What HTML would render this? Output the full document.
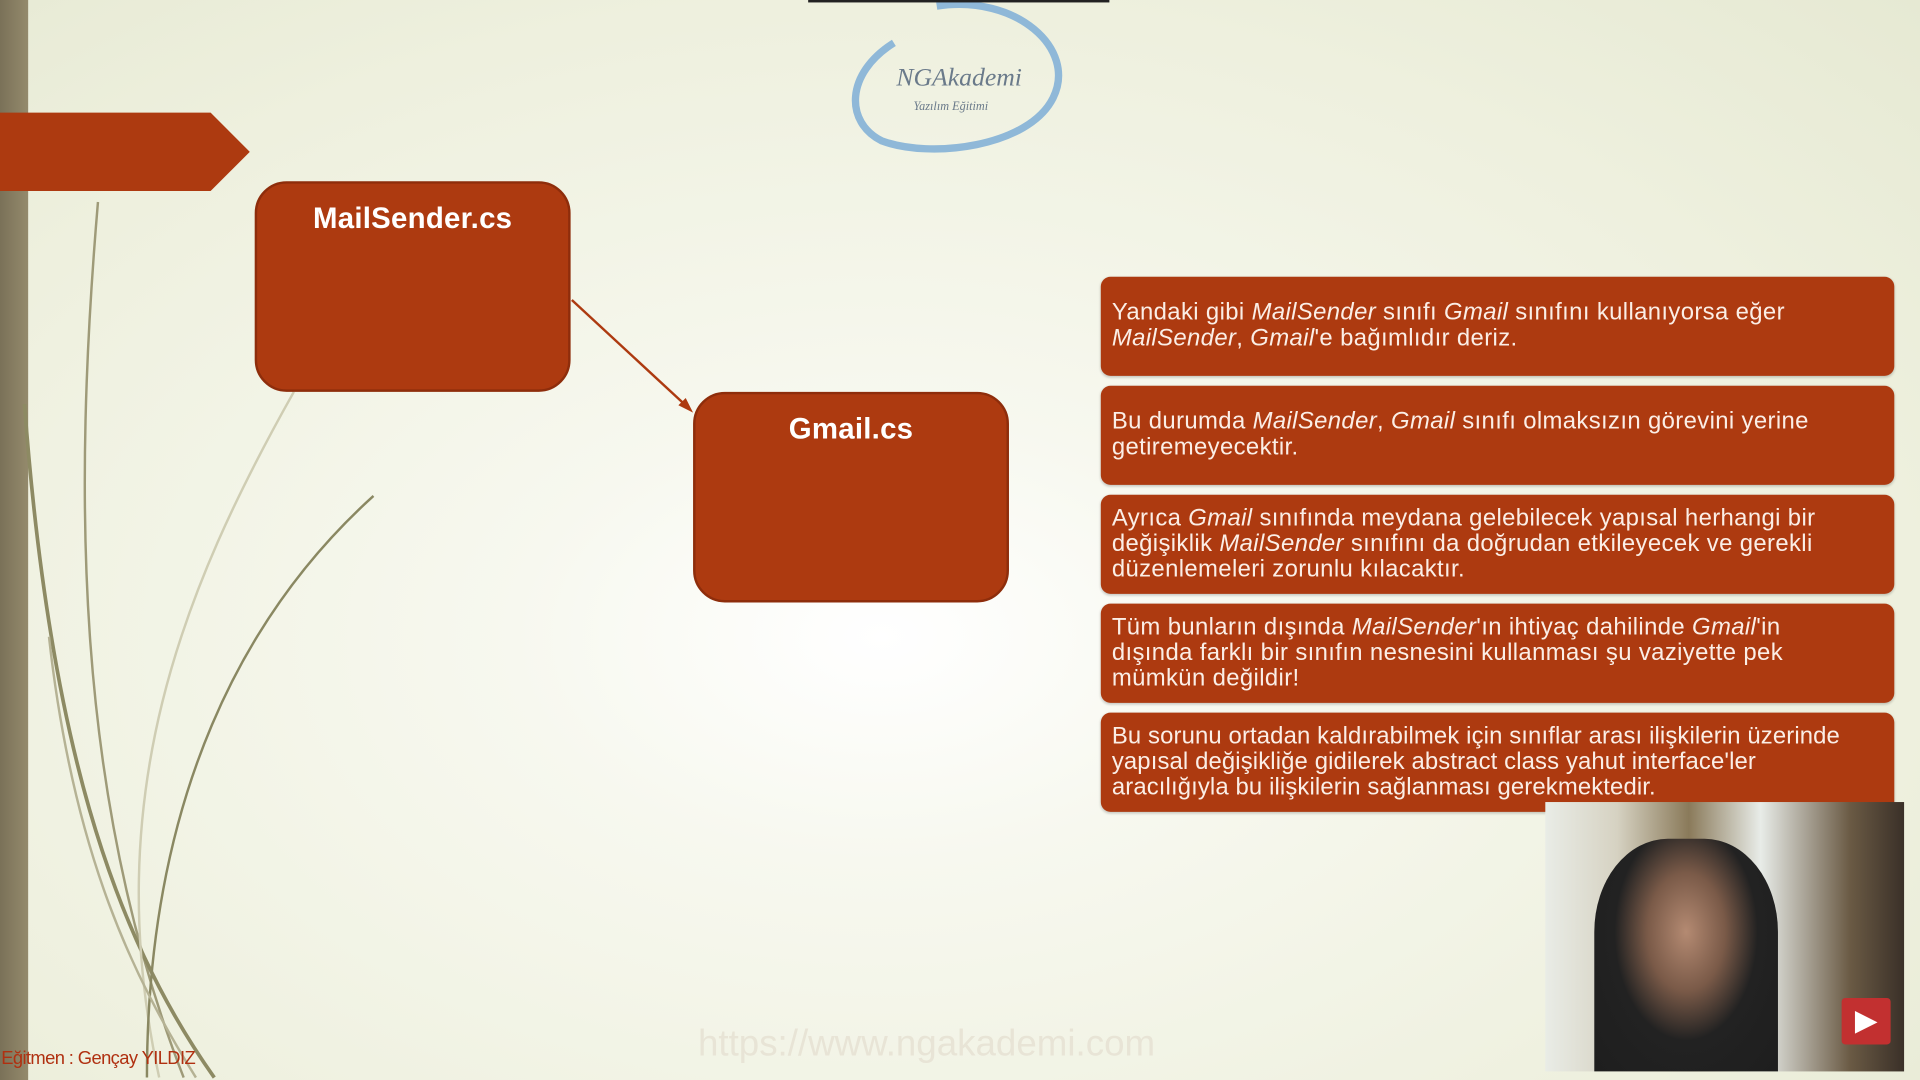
<!DOCTYPE html>
<html><head><meta charset="utf-8"><style>
html,body{margin:0;padding:0;width:1920px;height:1080px;overflow:hidden;background:#f3f3e6}
#s{position:absolute;left:0;top:0;width:1568px;height:882px;transform:scale(1.22449);transform-origin:0 0;
background:radial-gradient(ellipse at 720px 520px,#ffffff 0%,#f7f8ef 25%,#eef0de 70%,#e6e9d3 100%);font-family:"Liberation Sans",sans-serif;overflow:hidden}
.bar{position:absolute;left:0;top:0;width:23px;height:882px;background:linear-gradient(90deg,#7a7158,#948a6c)}
.box{position:absolute;background:#ad3a10;border:2px solid #8e2d0b;border-radius:26px;color:#fff;font-weight:bold;font-size:24px;letter-spacing:0.2px;text-align:center;box-sizing:border-box}
.p{position:absolute;left:899px;width:648px;height:81px;background:#ad3a10;border-radius:8px;color:#fbeee6;font-size:19.5px;letter-spacing:0.3px;line-height:21px;padding:18px 9px 0;box-sizing:border-box;box-shadow:0 1px 2px rgba(0,0,0,.2);white-space:nowrap}
i{font-style:italic}
</style></head><body><div id="s">
<div class="bar"></div>
<svg width="1568" height="882" style="position:absolute;left:0;top:0">
<path d="M80 165 C60 400 60 650 150 880" stroke="#9e9a78" stroke-width="2" fill="none"/>
<path d="M20 330 C40 600 90 760 175 880" stroke="#8d8a63" stroke-width="3" fill="none"/>
<path d="M240 320 C150 480 80 650 130 880" stroke="#cfcdb3" stroke-width="2" fill="none"/>
<path d="M305 405 C200 500 120 650 120 880" stroke="#8a8862" stroke-width="2" fill="none"/>
<path d="M40 520 C60 700 110 800 160 880" stroke="#b5b294" stroke-width="2" fill="none"/>
<polygon points="0,92 172,92 204,124 172,156 0,156" fill="#ad3a10"/>
<line x1="467" y1="245" x2="561" y2="332" stroke="#ad3a10" stroke-width="2"/>
<polygon points="566,337 554,331 560,325" fill="#ad3a10"/>
<path d="M765 5 C830 -5 880 40 860 80 C840 120 760 130 720 115 C690 100 690 60 730 35" fill="none" stroke="#8fb8d8" stroke-width="6"/>
<rect x="660" y="0" width="246" height="2" fill="#222"/>
<text x="732" y="70" font-family="Liberation Serif" font-style="italic" font-size="21" fill="#6a7a8a">NGAkademi</text>
<text x="746" y="90" font-family="Liberation Serif" font-style="italic" font-size="10" fill="#6a7a8a">Yazılım Eğitimi</text>
<text x="570" y="862" font-size="30" fill="#e8e4d6">https://www.ngakademi.com</text>
</svg>
<div class="box" style="left:208px;top:148px;width:258px;height:172px;padding-top:15px">MailSender.cs</div>
<div class="box" style="left:566px;top:320px;width:258px;height:172px;padding-top:15px">Gmail.cs</div>
<div class="p" style="top:226px;padding-top:19px">Yandaki gibi <i>MailSender</i> sınıfı <i>Gmail</i> sınıfını kullanıyorsa eğer<br><i>MailSender</i>, <i>Gmail</i>'e bağımlıdır deriz.</div>
<div class="p" style="top:315px;padding-top:19px">Bu durumda <i>MailSender</i>, <i>Gmail</i> sınıfı olmaksızın görevini yerine<br>getiremeyecektir.</div>
<div class="p" style="top:404px;padding-top:9px">Ayrıca <i>Gmail</i> sınıfında meydana gelebilecek yapısal herhangi bir<br>değişiklik <i>MailSender</i> sınıfını da doğrudan etkileyecek ve gerekli<br>düzenlemeleri zorunlu kılacaktır.</div>
<div class="p" style="top:493px;padding-top:9px">Tüm bunların dışında <i>MailSender</i>'ın ihtiyaç dahilinde <i>Gmail</i>'in<br>dışında farklı bir sınıfın nesnesini kullanması şu vaziyette pek<br>mümkün değildir!</div>
<div class="p" style="top:582px;padding-top:9px;letter-spacing:0.1px">Bu sorunu ortadan kaldırabilmek için sınıflar arası ilişkilerin üzerinde<br>yapısal değişikliğe gidilerek abstract class yahut interface'ler<br>aracılığıyla bu ilişkilerin sağlanması gerekmektedir.</div>
<div style="position:absolute;left:1262px;top:655px;width:293px;height:220px;background:linear-gradient(90deg,#e9ece6 0%,#d6d2c2 20%,#8a7a5a 40%,#e8ece8 60%,#6a5a44 85%,#3a3028 100%)">
<div style="position:absolute;left:40px;top:30px;width:150px;height:190px;background:radial-gradient(ellipse at 50% 40%,#b48a72 0%,#7a5a48 30%,#222 55%,#1e1e1e 100%);border-radius:40% 40% 0 0"></div>
<div style="position:absolute;left:242px;top:160px;width:40px;height:38px;background:#c23030;border-radius:3px;color:#fff;font-size:24px;text-align:center;line-height:38px">▶</div>
</div>
<div style="position:absolute;left:1px;top:856px;font-size:15px;color:#b03010;letter-spacing:-0.5px">Eğitmen : Gençay YILDIZ</div>
</div></body></html>
